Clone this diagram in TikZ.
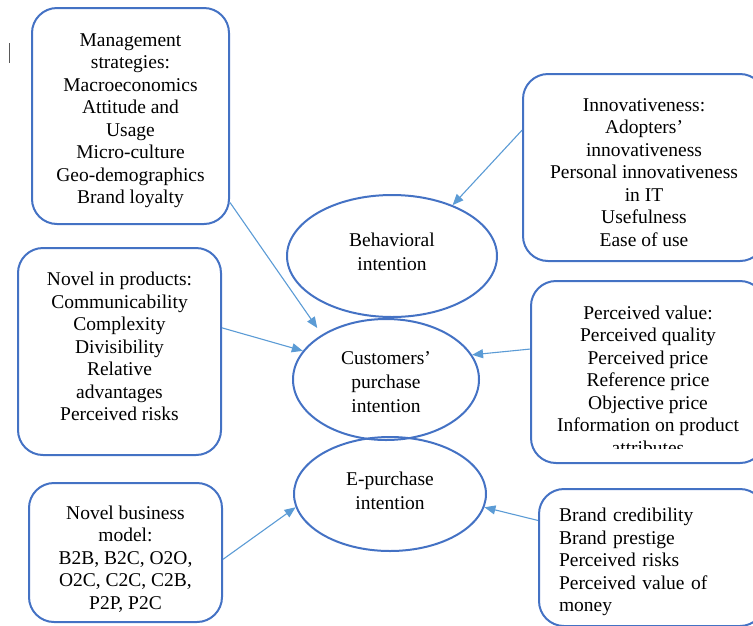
\documentclass[tikz,border=0pt]{standalone}
\usepackage{fontspec}
\setmainfont{Liberation Serif}
\usetikzlibrary{shapes.geometric,arrows.meta}
\definecolor{boxblue}{RGB}{68,114,196}
\definecolor{arrowblue}{RGB}{91,155,213}
\tikzset{
  factor/.style={
    draw=boxblue,
    line width=2pt,
    rounded corners=25pt,
    inner sep=0pt,
    align=center,
    font=\rmfamily\fontsize{19.5}{22.5}\selectfont
  },
  intent/.style={
    ellipse,
    draw=boxblue,
    line width=2pt,
    inner sep=0pt,
    align=center,
    font=\rmfamily\fontsize{19.5}{24}\selectfont
  },
  link/.style={
    draw=arrowblue,
    line width=1.1pt,
    -{Triangle[length=11pt,width=9pt]}
  }
}

\begin{document}
\begin{tikzpicture}[x=1pt,y=-1pt]
        \useasboundingbox (0,0) rectangle (753,625);
        \clip (0,0) rectangle (753,625);
        % stray cursor mark
        \draw[black!65, line width=1pt] (9,43)--(9,63);
        % factors on the left
        \node[factor, minimum width=197pt, minimum height=216pt] (mgmt) at (130.5,116)
          {Management\\strategies:\\Macroeconomics\\Attitude and\\Usage\\Micro-culture\\Geo-demographics\\Brand loyalty\\[-28pt]};
        \node[factor, minimum width=203pt, minimum height=207pt] (novel) at (119.5,351.5)
          {Novel in products:\\Communicability\\Complexity\\Divisibility\\Relative\\advantages\\Perceived risks\\[-12pt]};
        \node[factor, minimum width=193pt, minimum height=139pt] (bmodel) at (125.5,552.5)
          {Novel business\\model:\\B2B, B2C, O2O,\\O2C, C2C, C2B,\\P2P, P2C\\[-32pt]};
        % factors on the right
        \node[factor, minimum width=242pt, minimum height=187pt] (innov) at (644,167.5)
          {Innovativeness:\\Adopters'\\innovativeness\\Personal innovativeness\\in IT\\Usefulness\\Ease of use\\[-32pt]};
        \node[factor, minimum width=234pt, minimum height=182pt] (pval) at (648,372) {};
        \begin{scope}
          \clip (500,280) rectangle (753,448);
          \node[factor, draw=none] (pvaltext) at (648,380)
            {Perceived value:\\Perceived quality\\Perceived price\\Reference price\\Objective price\\Information on product\\attributes};
        \end{scope}
        \node[factor, align=left, text width=186pt, inner xsep=20pt, minimum height=137pt] (brand) at (652,557.5)
          {\rule{0pt}{23pt}Brand credibility\\Brand prestige\\Perceived risks\\Perceived value of\\money};
        % intentions
        \node[intent, minimum width=210pt, minimum height=122pt] (beh) at (392,256) {Behavioral\\intention\\[-16pt]};
        \node[intent, minimum width=186pt, minimum height=121pt] (cpi) at (386,379.5) {Customers'\\purchase\\intention\\[-29pt]};
        \node[intent, minimum width=192pt, minimum height=114pt] (epi) at (390,494) {E-purchase\\intention\\[-18pt]};
        % links
        \draw[link, shorten >=8pt] (mgmt.-41)--(cpi.145);
        \draw[link] (innov.163)--(beh.40);
        \draw[link] (novel.13)--(cpi.161);
        \draw[link] (pval.169)--(cpi.16);
        \draw[link] (bmodel.-4)--(epi.188);
        \draw[link] (brand.162)--(epi.-8);
    \end{tikzpicture}
\end{document}
